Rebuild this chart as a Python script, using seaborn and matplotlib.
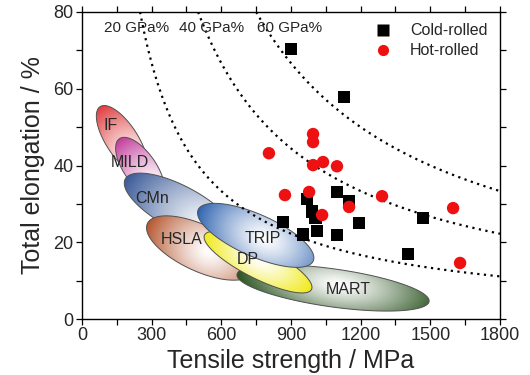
import numpy as np
import pandas as pd
import seaborn as sns
import matplotlib.pyplot as plt
from matplotlib.patches import Polygon
from matplotlib.colors import to_rgb

# DATA
cold_ts = [900, 1128, 969, 1098, 1150, 990, 1005, 1193, 1469, 866, 952, 1012, 1098, 1404]
cold_el = [70.3, 57.8, 31.2, 33.1, 30.7, 28.0, 26.5, 25.0, 26.3, 25.3, 22.0, 22.9, 21.9, 16.9]

hot_ts = [805, 995, 995, 995, 1038, 1098, 874, 978, 1034, 1150, 1292, 1598, 1628]
hot_el = [43.2, 48.2, 46.1, 40.1, 40.9, 39.8, 32.3, 33.1, 27.1, 29.2, 32.0, 28.9, 14.6]

# strength-ductility products (MPa%)
iso_products = [20000, 40000, 60000]
iso_labels = ['20 GPa%', '40 GPa%', '60 GPa%']
iso_label_x = [233, 560, 895]

# steel classes (centre in data units, semi axes in pixels, angle in screen degrees)
steel_names = ['IF', 'MILD', 'CMn', 'HSLA', 'MART', 'DP', 'TRIP']
steel_ts = [172, 250, 422, 508, 1081, 758, 748]
steel_el = [46.6, 39.3, 28.9, 18.5, 8.1, 14.8, 21.8]
steel_a = [40, 36, 62, 58, 97, 60, 63]
steel_b = [16, 16, 22, 23, 19, 16, 21]
steel_ang = [-57, -55, -28, -25, -8, -27, -24]
steel_col = ['#e03a3c', '#c23c9a', '#3a5a98', '#b5562e', '#2d5522', '#f0ea1a', '#3064b0']
steel_u0 = [0.6, 0.6, 0.6, 0.15, 0.05, 0.0, 0.15]
steel_v0 = [0.0, 0.0, -0.2, 0.0, 0.2, 0.2, 0.0]
label_ts = [125, 207, 301, 431, 1146, 715, 780]
label_el = [50.5, 40.9, 31.5, 20.6, 7.6, 15.4, 21.1]

XMAX, YMAX = 1800, 80

sns.set_style('ticks')
plt.rcParams['font.family'] = ['Liberation Sans', 'DejaVu Sans']

fig = plt.figure(figsize=(5.3, 3.75), dpi=100)
ax = fig.add_axes([0.1547, 0.1493, 0.7887, 0.8187])

pos = ax.get_position()
kx = 530 * pos.width / XMAX
ky = 375 * pos.height / YMAX

# gradient ellipses
for i, name in enumerate(steel_names):
    cx, cy = steel_ts[i], steel_el[i]
    a, b = steel_a[i], steel_b[i]
    th = np.radians(steel_ang[i])
    t = np.linspace(0, 2 * np.pi, 200)
    px = a * np.cos(t) * np.cos(th) - b * np.sin(t) * np.sin(th)
    py = a * np.cos(t) * np.sin(th) + b * np.sin(t) * np.cos(th)
    xs = cx + px / kx
    ys = cy + py / ky
    poly = Polygon(np.column_stack([xs, ys]), closed=True, facecolor='none',
                   edgecolor='#505050', lw=0.7, zorder=2 + i)
    ax.add_patch(poly)

    gx = np.linspace(xs.min(), xs.max(), 220)
    gy = np.linspace(ys.min(), ys.max(), 220)
    X, Y = np.meshgrid(gx, gy)
    dx = (X - cx) * kx
    dy = (Y - cy) * ky
    u = (dx * np.cos(th) + dy * np.sin(th)) / a
    v = (-dx * np.sin(th) + dy * np.cos(th)) / b
    d = np.sqrt((u - steel_u0[i]) ** 2 + 0.25 * (v - steel_v0[i]) ** 2)
    w = np.clip(d / (1 + abs(steel_u0[i])), 0, 1) ** 1.3
    col = np.array(to_rgb(steel_col[i]))
    img = np.ones(X.shape + (3,)) + w[..., None] * (col - 1)
    im = ax.imshow(img, origin='lower', aspect='auto', interpolation='bilinear',
                   extent=[gx[0], gx[-1], gy[0], gy[-1]], zorder=2 + i - 0.01)
    im.set_clip_path(poly)

for i, name in enumerate(steel_names):
    ax.text(label_ts[i], label_el[i], name, fontsize=11.5, ha='center', va='center',
            zorder=15)

# iso strength-ductility curves
for c, lab, lx in zip(iso_products, iso_labels, iso_label_x):
    x = np.linspace(c / YMAX, XMAX, 300)
    ax.plot(x, c / x, ls=(0, (1.0, 2.0)), color='black', lw=1.6, zorder=20)
    ax.text(lx, 75.8, lab, fontsize=11, ha='center', va='center', zorder=21)

df = pd.DataFrame({
    'TS': cold_ts + hot_ts,
    'El': cold_el + hot_el,
    'Type': ['Cold-rolled'] * len(cold_ts) + ['Hot-rolled'] * len(hot_ts),
})
sns.scatterplot(data=df, x='TS', y='El', hue='Type', style='Type',
                markers={'Cold-rolled': 's', 'Hot-rolled': 'o'},
                palette={'Cold-rolled': 'black', 'Hot-rolled': '#ee1111'},
                s=80, edgecolor='none', ax=ax, zorder=30)

handles, labels = ax.get_legend_handles_labels()
ax.legend(handles, labels, loc='upper right', frameon=False, fontsize=11.5,
          bbox_to_anchor=(1.005, 1.01), handletextpad=0.7, labelspacing=0.3,
          markerscale=0.9)

ax.set_xlim(0, XMAX)
ax.set_ylim(0, YMAX)
ax.set_xticks(range(0, 1801, 300))
ax.set_xticks(range(150, 1800, 300), minor=True)
ax.set_yticks(range(0, 81, 20))
ax.set_yticks(range(10, 80, 20), minor=True)
ax.tick_params(which='both', direction='out', top=True, right=True, length=4,
               width=0.9, labelsize=13, color='black', pad=2)
for sp in ax.spines.values():
    sp.set_visible(True)
    sp.set_linewidth(1.0)
    sp.set_color('black')
ax.set_xlabel('Tensile strength / MPa', fontsize=18, labelpad=3)
ax.set_ylabel('Total elongation / %', fontsize=18, labelpad=6)

fig.savefig('out.png', dpi=100)
